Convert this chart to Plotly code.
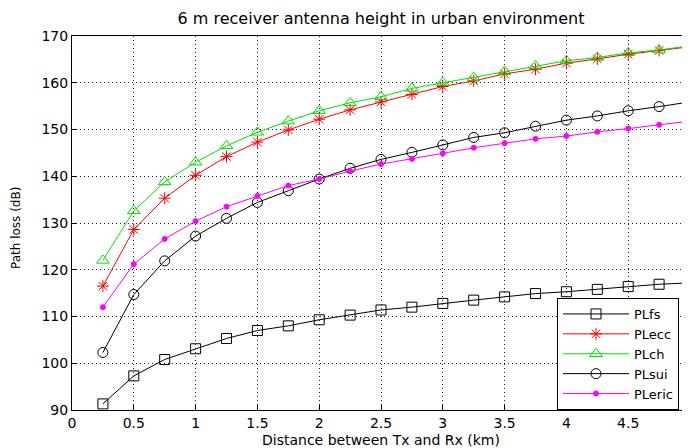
import plotly.graph_objects as go

distance_km = [0.25, 0.5, 0.75, 1.0, 1.25, 1.5, 1.75, 2.0, 2.25, 2.5,
               2.75, 3.0, 3.25, 3.5, 3.75, 4.0, 4.25, 4.5, 4.75, 5.0]

pl_fs = [91.3, 97.3, 100.8, 103.1, 105.3, 107.0, 108.0, 109.3, 110.3, 111.4,
         112.0, 112.8, 113.5, 114.2, 114.9, 115.3, 115.8, 116.4, 116.9, 117.2]
pl_ecc = [116.5, 128.6, 135.3, 140.2, 144.2, 147.3, 149.9, 152.2, 154.2, 155.9,
          157.5, 159.2, 160.4, 161.9, 162.9, 164.2, 165.1, 166.1, 166.9, 167.7]
pl_ch = [122.0, 132.6, 138.8, 143.0, 146.5, 149.4, 151.8, 154.0, 155.7, 157.0,
         158.8, 160.0, 161.1, 162.4, 163.6, 164.7, 165.4, 166.4, 167.0, 167.9]
pl_sui = [102.3, 114.7, 121.9, 127.2, 131.0, 134.4, 136.9, 139.4, 141.7, 143.6,
          145.1, 146.7, 148.3, 149.3, 150.7, 152.0, 152.9, 154.0, 154.9, 155.9]
pl_eric = [112.0, 121.2, 126.6, 130.4, 133.5, 135.8, 138.0, 139.4, 141.1, 142.6,
           143.7, 144.9, 146.1, 147.05, 148.0, 148.6, 149.5, 150.2, 151.0, 151.8]

x_ticks = [0, 0.5, 1, 1.5, 2, 2.5, 3, 3.5, 4, 4.5, 5]
x_tick_text = ["0", "0.5", "1", "1.5", "2", "2.5", "3", "3.5", "4", "4.5", "5"]
y_ticks = [90, 100, 110, 120, 130, 140, 150, 160, 170]

FONT = "DejaVu Sans"
OFF = 8  # browser default body margin
W, H = 690 - OFF, 448 - OFF
L, R, T = 72 - OFF, 0, 36 - OFF
B = H - (410 - OFF)
plot_w = W - L - R
plot_h = H - T - B


def px_x(page_x):
    return (page_x - OFF - L) / plot_w


def px_y(page_y):
    return (H - B - (page_y - OFF)) / plot_h


series = [
    ("PLfs", pl_fs, "black", "square-open", 10),
    ("PLecc", pl_ecc, "#ff0000", "asterisk-open", 10),
    ("PLch", pl_ch, "#00e000", "triangle-up-open", 11),
    ("PLsui", pl_sui, "black", "circle-open", 10),
    ("PLeric", pl_eric, "#ff00ff", "circle", 5),
]

fig = go.Figure()
for name, vals, col, sym, sz in series:
    fig.add_trace(go.Scatter(
        x=distance_km, y=vals, name=name, mode="lines+markers",
        line=dict(color=col, width=1),
        marker=dict(symbol=sym, size=sz, color=col,
                    line=dict(color=col, width=1)),
    ))

fig.update_layout(
    width=W, height=H,
    margin=dict(l=L, r=R, t=T, b=B, autoexpand=False),
    paper_bgcolor="white", plot_bgcolor="white",
    font=dict(family=FONT, size=14, color="black"),
    title=dict(text="6 m receiver antenna height in urban environment",
               x=(381 - OFF) / W, xanchor="center",
               y=1 - (18 - OFF) / H, yanchor="middle",
               font=dict(family=FONT, size=16, color="black")),
    showlegend=True,
    legend=dict(x=px_x(557), xanchor="left", y=0, yanchor="bottom",
                bgcolor="white", bordercolor="black", borderwidth=1,
                font=dict(family=FONT, size=13, color="black"),
                itemwidth=66, tracegroupgap=0),
    annotations=[
        dict(text="Distance between Tx and Rx (km)", xref="paper", yref="paper",
             x=px_x(381), y=px_y(440),
             xanchor="center", yanchor="middle", showarrow=False,
             font=dict(family=FONT, size=14, color="black")),
        dict(text="Path loss (dB)", xref="paper", yref="paper",
             x=px_x(16), y=px_y(228),
             xanchor="center", yanchor="middle", showarrow=False, textangle=-90,
             font=dict(family=FONT, size=12, color="black")),
    ],
)

fig.update_xaxes(
    range=[0, 5], tickvals=x_ticks, ticktext=x_tick_text, automargin=False,
    ticklabeloverflow="allow",
    showgrid=True, gridcolor="#222", griddash="1px,3px", gridwidth=1,
    showline=True, linecolor="black", linewidth=1, mirror=True,
    ticks="inside", ticklen=5, tickcolor="black",
    zeroline=False, tickfont=dict(family=FONT, size=14),
)
fig.update_yaxes(
    range=[90, 170], tickvals=y_ticks, automargin=False,
    showgrid=True, gridcolor="#222", griddash="1px,3px", gridwidth=1,
    showline=True, linecolor="black", linewidth=1, mirror=False,
    ticks="inside", ticklen=5, tickcolor="black",
    zeroline=False, tickfont=dict(family=FONT, size=14),
)

fig.write_html("out.html")
